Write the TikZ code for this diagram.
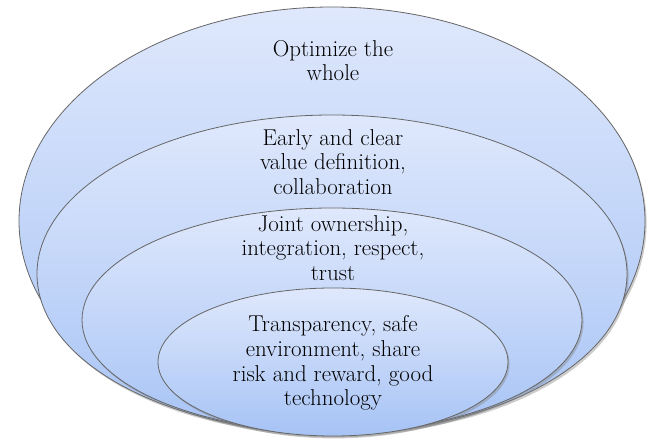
\documentclass[tikz,border=0pt]{standalone}
\usepackage{tikz}
\usetikzlibrary{shapes.geometric}
\usetikzlibrary{shadows}
\definecolor{ringtop}{RGB}{223,232,252}
\definecolor{ringbottom}{RGB}{166,195,245}
\tikzstyle{ring}=[ellipse,draw=black!60,line width=0.6pt,inner sep=0pt,top color=ringtop,bottom color=ringbottom,drop shadow={opacity=0.4,shadow xshift=1.2pt,shadow yshift=-1.8pt}]
\tikzstyle{lbl}=[align=center,inner sep=0pt,font=\fontsize{17.2}{18.5}\selectfont]

\begin{document}
\begin{tikzpicture}[x=0.75pt,y=0.75pt]

 \useasboundingbox (0,0) rectangle (654,440);

 %rings, outer to inner
 \def\u{0.75pt};
   \foreach \x/\y/\w/\h/\name in {332/219/626/428/outer, 332/166/590/318/second, 332/120/500/224/third, 333/78/350/148/inner}
          \node[ring, minimum width=\w*\u, minimum height=\h*\u] (\name) at (\x,\y) {};

 %texts
 \node[lbl] (whole) at (333,379.5) {Optimize the\\whole};
 \node[lbl] (value) at (333,278) {Early and clear\\value definition,\\collaboration};
 \node[lbl] (joint) at (333,192) {Joint ownership,\\integration, respect,\\trust};
 \node[lbl] (core) at (333,77) {Transparency, safe\\environment, share\\risk and reward, good\\technology};

\end{tikzpicture}
\end{document}
